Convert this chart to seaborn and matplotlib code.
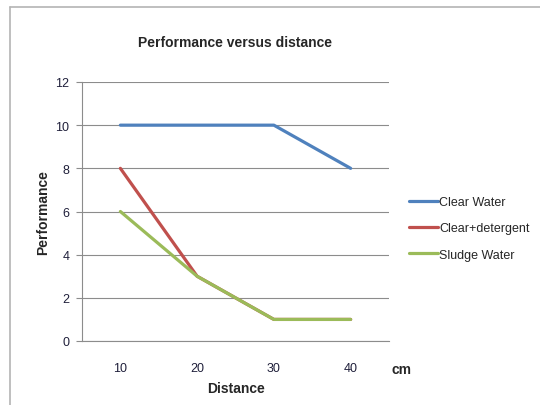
import seaborn as sns
import matplotlib.pyplot as plt
import pandas as pd
from matplotlib.lines import Line2D

distance = ["10", "20", "30", "40"]
clear_water = [10, 10, 10, 8]
clear_detergent = [8, 3, 1, 1]
sludge_water = [6, 3, 1, 1]
series_names = ["Clear Water", "Clear+detergent", "Sludge Water"]
colors = ["#4F81BD", "#C0504D", "#9BBB59"]

data = pd.DataFrame({
    "Distance": distance * 3,
    "Performance": clear_water + clear_detergent + sludge_water,
    "series": [s for s in series_names for _ in distance],
})

sns.set_style("white")
plt.rcParams["font.family"] = ["Liberation Sans", "DejaVu Sans"]

fig = plt.figure(figsize=(5.4, 4.06), dpi=100)
ax = fig.add_axes([82 / 540, 1 - 342 / 406, (389 - 82) / 540, (342 - 83) / 406])

sns.lineplot(data=data, x="Distance", y="Performance", hue="series",
             palette=colors, linewidth=2.3, sort=False, ax=ax)

ax.set_xlim(-0.5, 3.5)
ax.set_ylim(0, 12)
ax.set_yticks(range(0, 13, 2))
ax.yaxis.grid(True, color="#8c8c8c", linewidth=0.8)
ax.set_axisbelow(True)
for s in ["top", "right"]:
    ax.spines[s].set_visible(False)
for s in ["left", "bottom"]:
    ax.spines[s].set_color("#8c8c8c")
    ax.spines[s].set_linewidth(0.8)

ax.set_xticks(range(len(distance)))
ax.set_xticklabels(distance)
ax.set_xticks([i - 0.5 for i in range(len(distance) + 1)], minor=True)
ax.tick_params(axis="x", which="major", length=0, pad=15, labelsize=9, colors="#1f1f3a")
ax.tick_params(axis="x", which="minor", length=4, width=0.8, color="#8c8c8c", direction="out")
ax.tick_params(axis="y", length=4, width=0.8, color="#8c8c8c", direction="out",
               pad=5, labelsize=9, labelcolor="#1f1f3a", left=True)

ax.set_xlabel("Distance", fontsize=10, fontweight="bold", labelpad=5)
ax.set_ylabel("Performance", fontsize=10, fontweight="bold", labelpad=4)
ax.set_title("Performance versus distance", fontsize=10, fontweight="bold", pad=26)
fig.text(392 / 540, 1 - 370 / 406, "cm", fontsize=10, fontweight="bold", va="center")

ax.legend(loc="center left", bbox_to_anchor=(1.03, 0.435), frameon=False,
          fontsize=9, handlelength=2.3, handletextpad=0.1, labelspacing=1.15)

fig.add_artist(Line2D([10 / 540, 1], [1 - 7.5 / 406, 1 - 7.5 / 406], color="#b4b4b4", linewidth=1.2))
fig.add_artist(Line2D([10 / 540, 10 / 540], [0, 1 - 7.5 / 406], color="#b4b4b4", linewidth=1.2))

plt.savefig("out.png", dpi=100)
